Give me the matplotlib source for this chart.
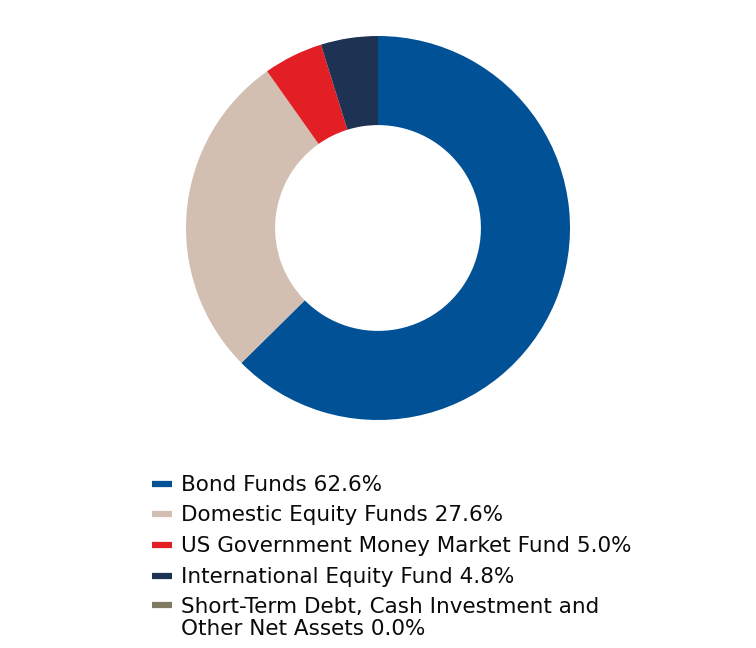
import matplotlib
matplotlib.use("Agg")
import matplotlib.pyplot as plt
from matplotlib.lines import Line2D

categories = ["Bond Funds", "Domestic Equity Funds", "US Government Money Market Fund",
              "International Equity Fund", "Short-Term Debt, Cash Investment and\nOther Net Assets"]
values = [62.6, 27.6, 5.0, 4.8, 0.0]
colors = ["#005195", "#D3BFB2", "#E31F26", "#1E3253", "#7F7B65"]

W, H = 756, 648
fig = plt.figure(figsize=(W / 100, H / 100), dpi=100)
cx, cy, r = 378, 228, 192
ax = fig.add_axes([(cx - r) / W, (H - cy - r) / H, 2 * r / W, 2 * r / H])
ax.pie(values, colors=colors, startangle=90, counterclock=False,
       wedgeprops=dict(width=0.464, edgecolor="none"), radius=1.0)
ax.set_xlim(-1, 1)
ax.set_ylim(-1, 1)
ax.set_aspect("equal")
ax.axis("off")

baselines = [491, 521, 552, 583, 612]
line_gap = 23
for cat, v, c, yb in zip(categories, values, colors, baselines):
    yc = yb - 7
    fig.add_artist(Line2D([152 / W, 172 / W], [1 - yc / H, 1 - yc / H],
                          color=c, lw=4.5, solid_capstyle="butt"))
    n = cat.count("\n")
    fig.text(181 / W, 1 - (yb + n * line_gap) / H, f"{cat} {v:.1f}%", fontsize=15.5,
             color="#0a0a0a", va="baseline", ha="left", linespacing=1.15,
             family="DejaVu Sans")

fig.savefig("out.png", dpi=100)
